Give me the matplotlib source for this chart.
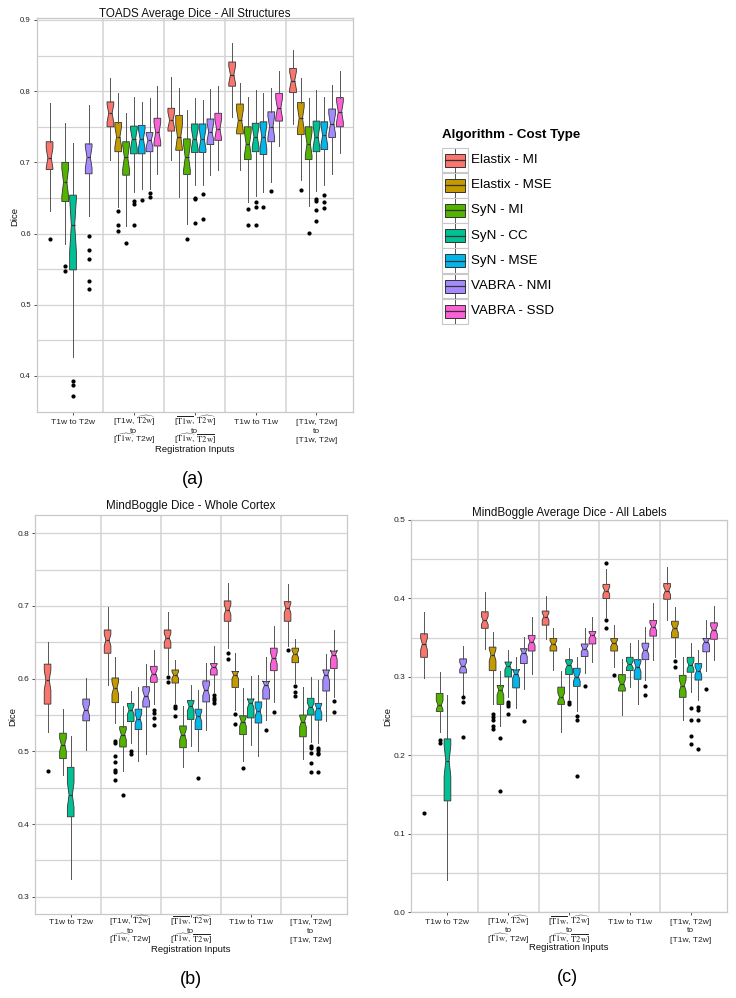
import matplotlib
matplotlib.use('Agg')
import matplotlib.pyplot as plt
import numpy as np
from matplotlib.patches import Rectangle
from matplotlib.lines import Line2D
from matplotlib.ticker import FormatStrFormatter
from matplotlib.transforms import blended_transform_factory

plt.rcParams['font.family'] = ['Liberation Sans', 'DejaVu Sans']
plt.rcParams['mathtext.fontset'] = 'stix'

W, H = 736, 998

ALGORITHMS = ['Elastix - MI', 'Elastix - MSE', 'SyN - MI', 'SyN - CC',
              'SyN - MSE', 'VABRA - NMI', 'VABRA - SSD']
COLORS = ['#F8766D', '#C49A00', '#53B400', '#00C094', '#00B6EB', '#A58AFF', '#FB61D7']
INPUT_LABELS = [
    'T1w to T2w',
    '[T1w, $\\widehat{\\mathrm{T2w}}$]\nto\n[$\\widehat{\\mathrm{T1w}}$, T2w]',
    '[$\\overline{\\mathrm{T1w}}$, $\\widehat{\\mathrm{T2w}}$]\nto\n'
    '[$\\widehat{\\mathrm{T1w}}$, $\\overline{\\mathrm{T2w}}$]',
    'T1w to T1w',
    '[T1w, T2w]\nto\n[T1w, T2w]',
]
N = None

# ---------------- Panel (a): TOADS Average Dice - All Structures ----------------
A_WHI = [[0.783, N, 0.755, 0.727, N, 0.780, N],
         [0.819, 0.797, 0.770, 0.792, 0.785, 0.790, 0.807],
         [0.820, 0.804, 0.773, 0.791, 0.788, 0.803, 0.807],
         [0.868, 0.812, 0.792, 0.801, 0.797, 0.804, 0.828],
         [0.858, 0.819, 0.791, 0.801, 0.792, 0.809, 0.828]]
A_Q3 = [[0.729, N, 0.700, 0.654, N, 0.726, N],
        [0.785, 0.756, 0.729, 0.751, 0.752, 0.742, 0.762],
        [0.776, 0.766, 0.733, 0.754, 0.754, 0.761, 0.769],
        [0.841, 0.782, 0.750, 0.755, 0.757, 0.771, 0.797],
        [0.832, 0.784, 0.750, 0.758, 0.757, 0.775, 0.791]]
A_MED = [[0.706, N, 0.672, 0.612, N, 0.707, N],
         [0.769, 0.736, 0.707, 0.733, 0.733, 0.731, 0.742],
         [0.759, 0.736, 0.707, 0.733, 0.733, 0.743, 0.747],
         [0.823, 0.759, 0.726, 0.736, 0.736, 0.750, 0.776],
         [0.815, 0.762, 0.726, 0.736, 0.738, 0.754, 0.771]]
A_Q1 = [[0.690, N, 0.645, 0.549, N, 0.684, N],
        [0.750, 0.715, 0.682, 0.712, 0.712, 0.715, 0.723],
        [0.744, 0.717, 0.683, 0.714, 0.714, 0.725, 0.731],
        [0.807, 0.740, 0.704, 0.715, 0.711, 0.729, 0.758],
        [0.798, 0.739, 0.704, 0.715, 0.718, 0.735, 0.750]]
A_WLO = [[0.632, N, 0.586, 0.426, N, 0.625, N],
         [0.703, 0.637, 0.611, 0.658, 0.663, 0.663, 0.683],
         [0.703, 0.651, 0.613, 0.668, 0.668, 0.682, 0.689],
         [0.764, 0.689, 0.645, 0.653, 0.658, 0.672, 0.723],
         [0.754, 0.675, 0.639, 0.660, 0.668, 0.684, 0.713]]
A_OUT = [[[0.593], [], [0.554, 0.548], [0.393, 0.387, 0.372], [], [0.596, 0.577, 0.565, 0.534, 0.522], []],
         [[], [0.632, 0.612, 0.603], [0.587], [0.646, 0.642, 0.612], [0.647], [0.657, 0.651], []],
         [[], [], [0.593], [0.650, 0.648, 0.615], [0.656, 0.621], [], []],
         [[], [], [0.634, 0.612], [0.644, 0.638, 0.612], [0.637], [0.660], []],
         [[], [0.661], [0.601], [0.649, 0.646, 0.633, 0.617], [0.654, 0.645, 0.636], [], []]]

# ---------------- Panel (b): MindBoggle Dice - Whole Cortex ----------------
B_WHI = [[0.650, N, 0.558, 0.521, N, 0.601, N],
         [0.699, 0.630, 0.562, 0.583, 0.588, 0.620, 0.639],
         [0.692, 0.626, 0.562, 0.591, 0.585, 0.622, 0.645],
         [0.732, 0.635, 0.587, 0.603, 0.605, 0.630, 0.672],
         [0.730, 0.654, 0.588, 0.602, 0.598, 0.634, 0.667]]
B_Q3 = [[0.620, N, 0.525, 0.478, N, 0.572, N],
        [0.667, 0.601, 0.534, 0.566, 0.558, 0.589, 0.617],
        [0.667, 0.612, 0.535, 0.570, 0.558, 0.597, 0.621],
        [0.707, 0.610, 0.549, 0.572, 0.568, 0.596, 0.642],
        [0.706, 0.642, 0.550, 0.573, 0.566, 0.612, 0.638]]
B_MED = [[0.598, N, 0.509, 0.440, N, 0.557, N],
         [0.653, 0.587, 0.523, 0.557, 0.545, 0.576, 0.607],
         [0.656, 0.605, 0.523, 0.562, 0.548, 0.584, 0.616],
         [0.695, 0.605, 0.541, 0.566, 0.555, 0.591, 0.628],
         [0.697, 0.634, 0.541, 0.561, 0.559, 0.605, 0.633]]
B_Q1 = [[0.565, N, 0.490, 0.410, N, 0.542, N],
        [0.635, 0.567, 0.506, 0.541, 0.530, 0.561, 0.595],
        [0.642, 0.594, 0.505, 0.544, 0.530, 0.568, 0.605],
        [0.679, 0.588, 0.523, 0.546, 0.539, 0.572, 0.611],
        [0.679, 0.622, 0.520, 0.550, 0.543, 0.583, 0.614]]
B_WLO = [[0.527, N, 0.468, 0.324, N, 0.502, N],
         [0.591, 0.539, 0.473, 0.511, 0.487, 0.496, 0.565],
         [0.607, 0.566, 0.478, 0.507, 0.500, 0.530, 0.582],
         [0.642, 0.557, 0.487, 0.509, 0.494, 0.543, 0.568],
         [0.645, 0.594, 0.490, 0.513, 0.511, 0.542, 0.575]]
B_OUT = [[[0.473], [], [], [], [], [], []],
         [[], [0.514, 0.511, 0.493, 0.486, 0.475, 0.471, 0.461], [0.440], [0.500, 0.497], [], [], [0.557, 0.553, 0.546, 0.536]],
         [[0.602, 0.595], [0.562, 0.559, 0.548], [], [], [0.464], [], [0.578, 0.574, 0.570, 0.567]],
         [[0.635, 0.627], [0.552, 0.538], [0.477], [], [], [0.529], [0.554]],
         [[0.639], [0.590, 0.582, 0.576], [], [0.508, 0.504, 0.498, 0.484, 0.471], [0.505, 0.502, 0.498, 0.496, 0.471], [], [0.569, 0.554]]]

# ---------------- Panel (c): MindBoggle Average Dice - All Labels ----------------
C_WHI = [[0.383, N, 0.306, 0.277, N, 0.339, N],
         [0.408, 0.357, 0.308, 0.334, 0.325, 0.351, 0.377],
         [0.403, 0.362, 0.308, 0.337, 0.326, 0.362, 0.376],
         [0.437, 0.366, 0.323, 0.343, 0.347, 0.364, 0.394],
         [0.440, 0.389, 0.325, 0.343, 0.334, 0.373, 0.391]]
C_Q3 = [[0.355, N, 0.279, 0.221, N, 0.323, N],
        [0.383, 0.338, 0.289, 0.319, 0.309, 0.336, 0.353],
        [0.384, 0.349, 0.287, 0.322, 0.311, 0.342, 0.358],
        [0.418, 0.349, 0.303, 0.325, 0.322, 0.343, 0.372],
        [0.419, 0.371, 0.302, 0.325, 0.317, 0.349, 0.369]]
C_MED = [[0.342, N, 0.264, 0.193, N, 0.314, N],
         [0.372, 0.328, 0.283, 0.314, 0.304, 0.331, 0.345],
         [0.377, 0.342, 0.274, 0.315, 0.300, 0.336, 0.353],
         [0.410, 0.343, 0.291, 0.316, 0.313, 0.334, 0.364],
         [0.410, 0.362, 0.289, 0.315, 0.308, 0.345, 0.360]]
C_Q1 = [[0.325, N, 0.256, 0.142, N, 0.305, N],
        [0.362, 0.308, 0.265, 0.300, 0.286, 0.317, 0.333],
        [0.366, 0.333, 0.265, 0.303, 0.288, 0.326, 0.342],
        [0.400, 0.333, 0.282, 0.308, 0.297, 0.322, 0.352],
        [0.399, 0.350, 0.274, 0.306, 0.296, 0.332, 0.348]]
C_WLO = [[0.299, N, 0.230, 0.041, N, 0.277, N],
         [0.336, 0.266, 0.237, 0.274, 0.260, 0.285, 0.304],
         [0.348, 0.309, 0.230, 0.272, 0.257, 0.305, 0.319],
         [0.377, 0.313, 0.251, 0.287, 0.266, 0.296, 0.321],
         [0.372, 0.325, 0.245, 0.281, 0.270, 0.308, 0.322]]
C_OUT = [[[0.127], [], [0.220, 0.216], [], [], [0.274, 0.268, 0.224], []],
         [[], [0.253, 0.249, 0.245, 0.237, 0.233], [0.222, 0.155], [0.268, 0.265, 0.263, 0.253], [], [0.244], []],
         [[], [], [], [0.268, 0.265], [0.250, 0.245, 0.174], [0.288], []],
         [[0.445, 0.373, 0.362], [0.302], [], [], [], [0.288, 0.277], []],
         [[], [0.320, 0.313], [], [0.260, 0.245, 0.225, 0.214], [0.262, 0.258, 0.245, 0.208], [0.284], []]]

# sample sizes used for the notch (median +/- 1.58 IQR / sqrt(n))
N_A, N_B, N_C = 20, 40, 40

fig = plt.figure(figsize=(W / 100, H / 100), dpi=100)


def add_ax(x0, y0, x1, y1):
    return fig.add_axes([x0 / W, 1 - y1 / H, (x1 - x0) / W, (y1 - y0) / H])


def ftext(x, y, s, **kw):
    fig.text(x / W, 1 - y / H, s, **kw)


GRID = '#D3D3D3'
DARK = '#333333'


def draw_panel(ax, wlo, q1, med, q3, whi, out, n, ylim, majors, minors, ysize, label_rows):
    slot = 0.9 / len(ALGORITHMS)
    bw = slot * 0.86
    for g in range(len(INPUT_LABELS)):
        for a in range(len(ALGORITHMS)):
            if med[g][a] is None:
                continue
            half = 1.58 * (q3[g][a] - q1[g][a]) / np.sqrt(n)
            st = dict(med=med[g][a], q1=q1[g][a], q3=q3[g][a],
                      whislo=wlo[g][a], whishi=whi[g][a],
                      fliers=np.array(out[g][a]),
                      cilo=med[g][a] - half, cihi=med[g][a] + half)
            pos = g + 1 + (a - 3) * slot
            ax.bxp([st], positions=[pos], widths=bw, shownotches=True,
                   patch_artist=True, showcaps=False, manage_ticks=False,
                   boxprops=dict(facecolor=COLORS[a], edgecolor=DARK, linewidth=0.6),
                   medianprops=dict(color=DARK, linewidth=0.9),
                   whiskerprops=dict(color='#555555', linewidth=0.7),
                   flierprops=dict(marker='o', markerfacecolor='black',
                                   markeredgecolor='black', markersize=2.0,
                                   linestyle='none'))
    ax.set_xlim(0.4, 5.6)
    ax.set_ylim(*ylim)
    ax.set_yticks(majors)
    ax.set_yticks(minors, minor=True)
    ax.yaxis.set_major_formatter(FormatStrFormatter('%.1f'))
    ax.grid(axis='y', which='both', color=GRID, linewidth=0.9)
    for xb in [1.5, 2.5, 3.5, 4.5]:
        ax.axvline(xb, color=GRID, linewidth=1.1, zorder=0)
    ax.set_axisbelow(True)
    for sp in ax.spines.values():
        sp.set_color('#C8C8C8')
        sp.set_linewidth(0.9)
    ax.set_xticks(range(1, len(INPUT_LABELS) + 1))
    ax.set_xticklabels([''] * len(INPUT_LABELS))
    ax.tick_params(axis='x', which='major', length=2.5, width=0.6, color=DARK)
    ax.tick_params(axis='y', which='major', length=2.5, width=0.6, color=DARK,
                   labelsize=ysize, pad=1.5, labelcolor='#222222')
    ax.tick_params(axis='y', which='minor', length=0)
    # category labels, one text per line (data x, figure-pixel y)
    trans = blended_transform_factory(ax.transData, fig.transFigure)
    for i, lab in enumerate(INPUT_LABELS):
        for line, yc in zip(lab.split('\n'), label_rows):
            ax.text(i + 1, 1 - (yc + 3.0) / H, line, transform=trans, ha='center',
                    va='baseline', fontsize=6.1, color='#222222')


axA = add_ax(36.5, 18, 353, 412)
draw_panel(axA, A_WLO, A_Q1, A_MED, A_Q3, A_WHI, A_OUT, N_A, (0.3494, 0.9028),
           np.arange(0.4, 0.95, 0.1), np.arange(0.45, 0.9, 0.1), 5.6, (421, 430, 439))
axB = add_ax(34.7, 515, 346.7, 914.3)
draw_panel(axB, B_WLO, B_Q1, B_MED, B_Q3, B_WHI, B_OUT, N_B, (0.2758, 0.8252),
           np.arange(0.3, 0.85, 0.1), np.arange(0.35, 0.8, 0.1), 6.0, (921, 930, 939))
axC = add_ax(411, 520, 727, 912.3)
draw_panel(axC, C_WLO, C_Q1, C_MED, C_Q3, C_WHI, C_OUT, N_C, (0.0, 0.5),
           np.arange(0.0, 0.55, 0.1), np.arange(0.05, 0.5, 0.1), 6.0, (920.5, 929.5, 938.5))

# titles / labels
ftext(195, 14, 'TOADS Average Dice - All Structures', ha='center', va='center', fontsize=8.4, color='#111111')
ftext(190.7, 506, 'MindBoggle Dice - Whole Cortex', ha='center', va='center', fontsize=8.4, color='#111111')
ftext(569, 513, 'MindBoggle Average Dice - All Labels', ha='center', va='center', fontsize=8.4, color='#111111')
ftext(195, 449, 'Registration Inputs', ha='center', va='center', fontsize=6.8, color='#111111')
ftext(190.7, 950, 'Registration Inputs', ha='center', va='center', fontsize=6.8, color='#111111')
ftext(569, 948, 'Registration Inputs', ha='center', va='center', fontsize=6.8, color='#111111')
ftext(15, 216, 'Dice', ha='center', va='center', fontsize=6.8, rotation=90, color='#111111')
ftext(12.7, 716, 'Dice', ha='center', va='center', fontsize=6.8, rotation=90, color='#111111')
ftext(388, 716, 'Dice', ha='center', va='center', fontsize=6.8, rotation=90, color='#111111')
ftext(192.5, 479, '(a)', ha='center', va='center', fontsize=13)
ftext(191, 980, '(b)', ha='center', va='center', fontsize=13)
ftext(567, 978, '(c)', ha='center', va='center', fontsize=13)

# legend
lax = add_ax(430, 115, 620, 330)
lax.set_xlim(430, 620)
lax.set_ylim(330, 115)
lax.axis('off')
lax.text(441.5, 135, 'Algorithm - Cost Type', fontsize=9.6, fontweight='bold', va='center', ha='left')
for i, (name, col) in enumerate(zip(ALGORITHMS, COLORS)):
    cy = 160 + i * 25.2
    lax.add_patch(Rectangle((442, cy - 12.4), 25.5, 24.8, facecolor='white', edgecolor='#C8C8C8', linewidth=0.8))
    lax.add_line(Line2D([454.7, 454.7], [cy - 11.5, cy + 11.5], color='#555555', linewidth=0.7))
    lax.add_patch(Rectangle((445, cy - 6.5), 19.5, 13, facecolor=col, edgecolor=DARK, linewidth=0.7, zorder=3))
    lax.add_line(Line2D([445, 464.5], [cy, cy], color=DARK, linewidth=0.9, zorder=4))
    lax.text(471, cy, name, fontsize=9.6, va='center', ha='left')

fig.savefig('out.png', dpi=100)
